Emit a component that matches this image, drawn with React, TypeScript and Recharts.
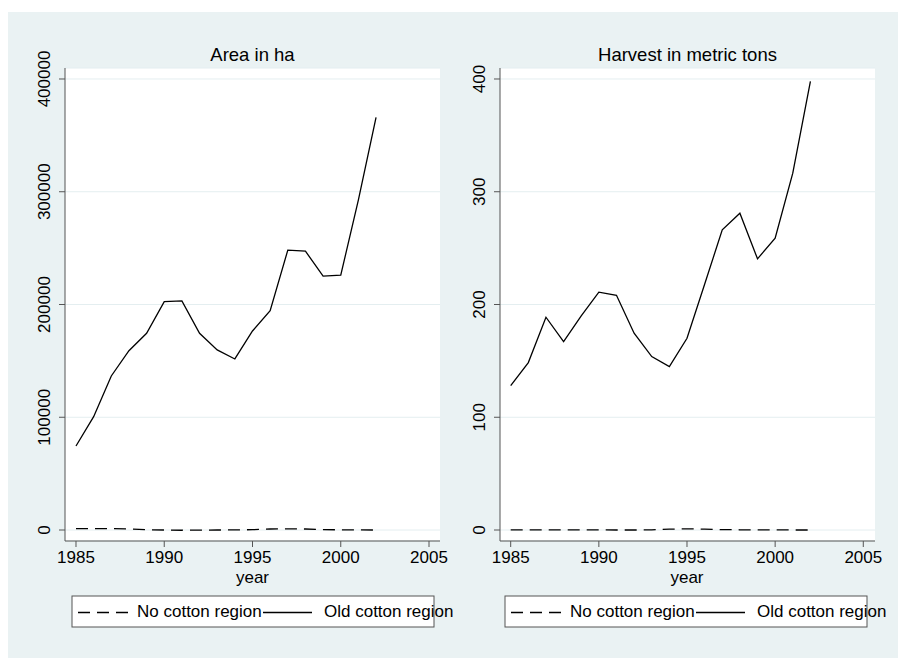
import { LineChart, Line, XAxis, YAxis, CartesianGrid } from 'recharts'

const years = [1985, 1986, 1987, 1988, 1989, 1990, 1991, 1992, 1993, 1994, 1995, 1996, 1997, 1998, 1999, 2000, 2001, 2002]
const areaOld = [74500, 100500, 136600, 159000, 174500, 202600, 203200, 174500, 159700, 151700, 176500, 194600, 248200, 247300, 225100, 226000, 292800, 365900]
const areaNo = [1200, 1300, 1200, 1000, 200, 0, -200, -100, 0, 100, 300, 900, 1000, 900, 300, 200, 100, 0]
const harvestOld = [128, 148.5, 188.7, 167, 190, 210.9, 208.2, 174.5, 153.8, 144.9, 170, 218, 266.2, 281, 240.5, 258.8, 316.5, 397.8]
const harvestNo = [0.2, 0.2, 0.2, 0.2, 0.2, 0.1, 0, 0, 0.1, 0.8, 1, 0.8, 0.3, 0.2, 0.2, 0.1, 0, 0]

const yearTicks = [1985, 1990, 1995, 2000, 2005]
const areaTicks = [0, 100000, 200000, 300000, 400000]
const harvestTicks = [0, 100, 200, 300, 400]

const FONT = 'Arial, "Liberation Sans", sans-serif'
const AXIS = '#555'
const BG = '#eaf2f3'

const areaData = years.map((year, i) => ({ year, old: areaOld[i], no: areaNo[i] }))
const harvestData = years.map((year, i) => ({ year, old: harvestOld[i], no: harvestNo[i] }))

const VTick = ({ x, y, payload }: any) => (
  <text x={x} y={y} transform={`rotate(-90 ${x} ${y})`} textAnchor="middle" fontSize={17} fill="#000" fontFamily={FONT}>
    {payload.value}
  </text>
)

interface PanelProps {
  left: number
  width: number
  yWidth: number
  rightMargin: number
  data: { year: number; old: number; no: number }[]
  yDomain: [number, number]
  yTicks: number[]
  xDomain: [number, number]
}

function Panel({ left, width, yWidth, rightMargin, data, yDomain, yTicks, xDomain }: PanelProps) {
  return (
    <div style={{ position: 'absolute', left, top: 0 }}>
      <LineChart width={width} height={660} data={data} margin={{ top: 68, right: rightMargin, bottom: 89, left: 0 }}>
        <CartesianGrid vertical={false} stroke="#e4eef0" fill="#fff" fillOpacity={1} />
        <XAxis
          dataKey="year"
          type="number"
          domain={xDomain}
          ticks={yearTicks}
          allowDataOverflow
          height={30}
          tickSize={6}
          tickMargin={4}
          stroke={AXIS}
          tick={{ fontSize: 17, fill: '#000', fontFamily: FONT }}
        />
        <YAxis
          type="number"
          domain={yDomain}
          ticks={yTicks}
          allowDataOverflow
          width={yWidth}
          tickSize={6}
          tickMargin={9}
          stroke={AXIS}
          tick={<VTick />}
        />
        <Line dataKey="no" stroke="#000" strokeWidth={1.3} strokeDasharray="12 7" dot={false} isAnimationActive={false} />
        <Line dataKey="old" stroke="#000" strokeWidth={1.3} dot={false} isAnimationActive={false} />
      </LineChart>
    </div>
  )
}

function LegendBox({ x }: { x: number }) {
  return (
    <g fontFamily={FONT} fontSize={17} fill="#000">
      <rect x={x} y={596} width={362} height={31} fill="#fff" stroke={AXIS} strokeWidth={1} />
      <line x1={x + 6} x2={x + 56} y1={612.5} y2={612.5} stroke="#000" strokeWidth={1.3} strokeDasharray="12 7" />
      <text x={x + 65} y={617}>No cotton region</text>
      <line x1={x + 191} x2={x + 240} y1={612.5} y2={612.5} stroke="#000" strokeWidth={1.3} />
      <text x={x + 252} y={617}>Old cotton region</text>
    </g>
  )
}

export default function App() {
  return (
    <div style={{ position: 'absolute', left: 0, top: 0, width: 898, height: 660, background: '#fff' }}>
      <div style={{ position: 'absolute', left: 8, top: 12, width: 890, height: 646, background: BG }} />
      <Panel
        left={0}
        width={449}
        yWidth={65}
        rightMargin={9}
        data={areaData}
        yDomain={[-9756, 409756]}
        yTicks={areaTicks}
        xDomain={[1984.377, 2005.623]}
      />
      <Panel
        left={440}
        width={458}
        yWidth={60}
        rightMargin={23}
        data={harvestData}
        yDomain={[-9.756, 409.756]}
        yTicks={harvestTicks}
        xDomain={[1984.393, 2005.664]}
      />
      <svg width={898} height={660} style={{ position: 'absolute', left: 0, top: 0, pointerEvents: 'none' }}>
        <g fontFamily={FONT} fill="#000" textAnchor="middle">
          <text x={252.5} y={61} fontSize={18.5}>Area in ha</text>
          <text x={687.5} y={61} fontSize={18.5}>Harvest in metric tons</text>
          <text x={252.5} y={583} fontSize={17}>year</text>
          <text x={687} y={583} fontSize={17}>year</text>
        </g>
        <LegendBox x={72} />
        <LegendBox x={505} />
      </svg>
    </div>
  )
}
